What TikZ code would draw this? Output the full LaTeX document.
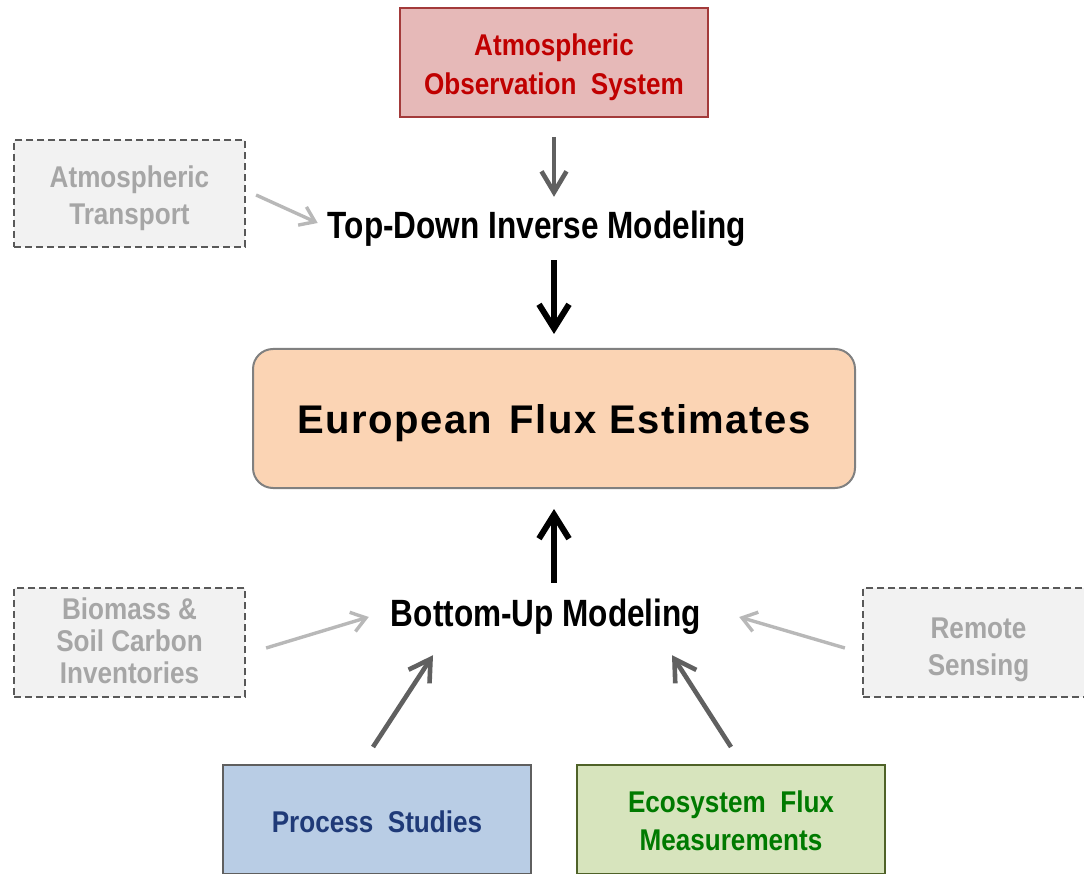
\documentclass[tikz,border=0pt]{standalone}
\usepackage{fontspec}
\setmainfont{Liberation Sans}
\newfontfamily\narrowsans[FakeStretch=0.87]{Liberation Sans}
\newfontfamily\stagesans[FakeStretch=0.83]{Liberation Sans}
\newfontfamily\widesans[LetterSpace=3.6]{Liberation Sans}
\usetikzlibrary{arrows.meta}

\definecolor{obsfill}{HTML}{E6B9B8}
\definecolor{obsline}{HTML}{A33A3A}
\definecolor{obstext}{HTML}{C00000}
\definecolor{auxfill}{HTML}{F2F2F2}
\definecolor{auxline}{HTML}{595959}
\definecolor{auxtext}{HTML}{A6A6A6}
\definecolor{eurofill}{HTML}{FBD4B4}
\definecolor{euroline}{HTML}{808080}
\definecolor{psfill}{HTML}{B9CDE5}
\definecolor{psline}{HTML}{5F5F5F}
\definecolor{pstext}{HTML}{1F3A78}
\definecolor{ecofill}{HTML}{D7E4BD}
\definecolor{ecoline}{HTML}{4F6228}
\definecolor{ecotext}{HTML}{007A00}
\definecolor{lightarrow}{HTML}{B8B8B8}
\definecolor{darkarrow}{HTML}{606060}

% lower a label inside its box without changing the box's size
\newcommand{\lowered}[2]{\raisebox{-#1}[\height][\depth]{#2}}

\tikzset{
  box/.style={rectangle, minimum width=308pt, minimum height=109pt, inner sep=0pt,
    align=center, line width=2pt, font=\narrowsans\bfseries\fontsize{30}{38}\selectfont},
  auxbox/.style={box, minimum width=231pt, fill=auxfill, draw=auxline,
    dash pattern=on 7pt off 4pt, line width=2.2pt, text=auxtext,
    font=\narrowsans\bfseries\fontsize{30}{32}\selectfont},
  stagetext/.style={inner sep=0pt, text height=28pt, text depth=8pt,
    font=\stagesans\bfseries\fontsize{38}{40}\selectfont},
  lightarr/.style={draw=lightarrow, line width=3.4pt,
    -{Straight Barb[length=14pt, width=20pt, line width=3.4pt]}},
  darkarr/.style={draw=darkarrow, line width=4.6pt,
    -{Straight Barb[length=21pt, width=25pt, line width=4.6pt]}},
  blackarr/.style={draw=black, line width=6pt,
    -{Straight Barb[length=24pt, width=30pt, line width=6pt]}},
}

\begin{document}
\begin{tikzpicture}[x=1pt, y=-1pt]
\useasboundingbox (0,0) rectangle (1084,874);

% sources and models
\node[box, fill=obsfill, draw=obsline, text=obstext] (obs) at (554,62.5)
  {\lowered{5pt}{\begin{tabular}{@{}c@{}}Atmospheric\\[1pt]Observation~ System\end{tabular}}};
\node[auxbox, minimum height=107pt, font=\narrowsans\bfseries\fontsize{30}{37}\selectfont]
  (atr) at (129.5,193.5) {\lowered{5pt}{\begin{tabular}{@{}c@{}}Atmospheric\\Transport\end{tabular}}};
\node[stagetext] (td) at (537,229) {Top-Down Inverse Modeling};

\node[rectangle, rounded corners=20pt, minimum width=602pt, minimum height=139pt,
  fill=eurofill, draw=euroline, line width=2pt, inner sep=0pt,
  font=\widesans\bfseries\fontsize{40}{44}\selectfont] (euro) at (554,418.5)
  {\lowered{5pt}{European\hspace{5pt} Flux\hspace{1pt} Estimates}};

\node[stagetext] (bu) at (546,616) {Bottom-Up Modeling};
\node[auxbox] (bio) at (129.5,642.5)
  {\lowered{3pt}{\begin{tabular}{@{}c@{}}Biomass \&\\Soil Carbon\\Inventories\end{tabular}}};
\node[auxbox] (rs) at (978.5,642.5)
  {\lowered{8pt}{\begin{tabular}{@{}c@{}}Remote\\[5pt]Sensing\end{tabular}}};

\node[box, fill=psfill, draw=psline, text=pstext] (ps) at (377,819.5)
  {\lowered{2pt}{Process~ Studies}};
\node[box, fill=ecofill, draw=ecoline, text=ecotext] (eco) at (731,819.5)
  {\lowered{4pt}{\begin{tabular}{@{}c@{}}Ecosystem~ Flux\\Measurements\end{tabular}}};

% connectors
\draw[darkarr, shorten <=19pt, shorten >=14pt] (obs.south) -- (td.north -| obs.south);
\draw[lightarr] ([shift={(10,1.5)}]atr.east) -- ([shift={(-10,-6)}]td.west);
\draw[blackarr, shorten <=13pt, shorten >=14pt] (td.south -| euro.north) -- (euro.north);

\draw[blackarr, shorten <=15pt, shorten >=20pt] (bu.north -| euro.south) -- (euro.south);
\draw[lightarr] ([shift={(20,5.5)}]bio.east) -- ([shift={(-22,1)}]bu.west);
\draw[lightarr] ([shift={(-17,5.5)}]rs.west) -- ([shift={(38,1)}]bu.east);
\draw[darkarr] ([shift={(-4,-17)}]ps.north) -- ([shift={(-113,21)}]bu.south);
\draw[darkarr] ([shift={(0,-17)}]eco.north) -- ([shift={(126,21)}]bu.south);
\end{tikzpicture}
\end{document}
